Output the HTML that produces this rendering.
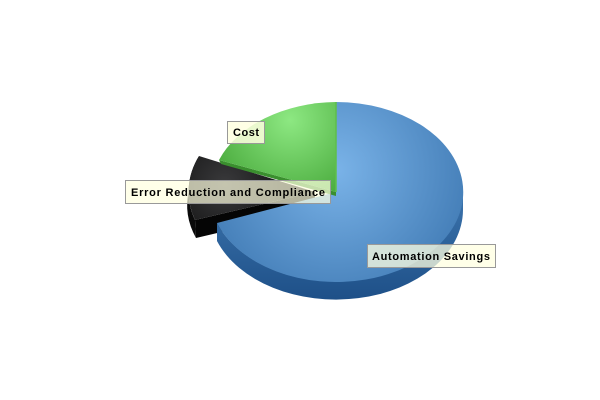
<!DOCTYPE html>
<html><head><meta charset="utf-8"><style>
html,body{margin:0;padding:0;background:#fff;width:600px;height:400px;overflow:hidden}
</style></head><body>
<svg width="600" height="400" xmlns="http://www.w3.org/2000/svg">
<defs>
<radialGradient id="bl" cx="336" cy="170" r="150" gradientUnits="userSpaceOnUse">
<stop offset="0" stop-color="#7ab3e8"/><stop offset="1" stop-color="#3f79b3"/></radialGradient>
<linearGradient id="bs" x1="0" y1="0" x2="0" y2="1"><stop offset="0" stop-color="#3c74ad"/><stop offset="1" stop-color="#1e5088"/></linearGradient>
<radialGradient id="gr" cx="290" cy="120" r="90" gradientUnits="userSpaceOnUse">
<stop offset="0" stop-color="#8de882"/><stop offset="1" stop-color="#47a83a"/></radialGradient>
<radialGradient id="bk" cx="225" cy="185" r="80" gradientUnits="userSpaceOnUse">
<stop offset="0" stop-color="#3a3a3c"/><stop offset="1" stop-color="#0a0a0a"/></radialGradient>
</defs>
<path d="M195,220 L315,192 L315,210 L196,238 Z" fill="#050505"/>
<path d="M199,156 A127,90 0 0 0 195,220 L196,238 A127,90 0 0 1 189,190 Z" fill="#0a0a0a"/>
<path d="M315,192 L199,156 A127,90 0 0 0 195,220 Z" fill="url(#bk)"/>
<path d="M463,192 A127,90 0 0 1 217,223 L217,241 A127,90 0 0 0 463,210 Z" fill="url(#bs)"/>
<path d="M336,192 L336,102 A127,90 0 1 1 217,223 Z" fill="url(#bl)"/>
<path d="M219,160 L336,192 L336,196 L221,164 Z" fill="#3a8f2e"/>
<path d="M336,192 L219,160 A127,90 0 0 1 336,102 Z" fill="url(#gr)"/>
<line x1="336" y1="102" x2="336" y2="192" stroke="#5fbf4a" stroke-width="1.5"/>
<g font-family="Liberation Sans, sans-serif" font-weight="bold" font-size="11" fill="#000">
<rect x="227.5" y="121.5" width="37" height="22" fill="#ffffe0" fill-opacity="0.85" stroke="#999"/>
<text x="233" y="136" textLength="26">Cost</text>
<rect x="125.5" y="180.5" width="205" height="23" fill="#ffffe0" fill-opacity="0.7" stroke="#999"/>
<text x="131" y="196" textLength="194">Error Reduction and Compliance</text>
<rect x="367.5" y="244.5" width="128" height="23" fill="#ffffe0" fill-opacity="0.75" stroke="#999"/>
<text x="372" y="260" textLength="118">Automation Savings</text>
</g>
</svg>
</body></html>
